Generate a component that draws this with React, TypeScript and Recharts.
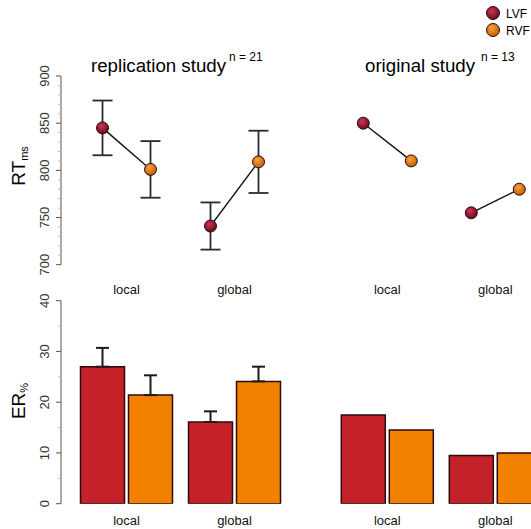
import { ScatterChart, Scatter, BarChart, Bar, XAxis, YAxis, ErrorBar } from 'recharts';

const FONT = '"Liberation Sans", Arial, Helvetica, sans-serif';

const conditions = ['local', 'global'];

// reaction times in ms, replication study (with standard errors) and original study
const repRtLVF = [845, 741];
const repRtRVF = [801, 809];
const repRtSeLVF = [29, 25];
const repRtSeRVF = [30, 33];
const origRtLVF = [850, 755];
const origRtRVF = [810, 780];

// error rates in %
const repErLVF = [27.0, 16.1];
const repErRVF = [21.4, 24.1];
const repErSeLVF = [3.7, 2.1];
const repErSeRVF = [3.9, 2.9];
const origErLVF = [17.5, 9.5];
const origErRVF = [14.5, 10.0];

const rtTicks = [700, 710, 720, 730, 740, 750, 760, 770, 780, 790, 800, 810, 820, 830, 840, 850, 860, 870, 880, 890, 900];
const erTicks = [0, 5, 10, 15, 20, 25, 30, 35, 40];

const COLORS = { LVF: '#c52129', RVF: '#f38100' };

// bar geometry shared by both rows so dots sit over the bars
const BAR_SIZE = 44;
const BAR_GAP = 4;
const BAND = 108;
const OFFSET = (BAR_SIZE + BAR_GAP) / 2 / BAND;

const makeTick = (majorStep: number, labelOffset: number) => (props: any) => {
  const { x, y, payload } = props;
  const major = payload.value % majorStep === 0;
  return (
    <g>
      <line x1={x - (major ? 5 : 3)} x2={x} y1={y} y2={y} stroke={major ? '#555' : '#bbb'} strokeWidth={1} />
      {major && (
        <text
          transform={`translate(${x - labelOffset},${y}) rotate(-90)`}
          textAnchor="middle"
          fontSize={13}
          fontFamily={FONT}
          fill="#333"
        >
          {payload.value}
        </text>
      )}
    </g>
  );
};

const Dot = (props: any) => {
  const { cx, cy, payload } = props;
  return <circle cx={cx} cy={cy} r={6} fill={`url(#dot-${payload.series})`} stroke="#2a0a10" strokeWidth={1} />;
};

function RtPanel({ lvf, rvf, seL, seR, primary }: any) {
  const pairs = conditions.map((c, i) => [
    { x: i - OFFSET, y: lvf[i], err: seL ? seL[i] : 0, series: 'LVF', cond: c },
    { x: i + OFFSET, y: rvf[i], err: seR ? seR[i] : 0, series: 'RVF', cond: c },
  ]);
  return (
    <ScatterChart
      width={primary ? 300 : 229.3}
      height={300}
      margin={primary ? { top: 76, right: 11.5, bottom: 5.3, left: 6 } : { top: 76, right: 0, bottom: 5.3, left: 13.3 }}
    >
      <XAxis
        type="number"
        dataKey="x"
        domain={[-0.5, 1.5]}
        ticks={[0, 1]}
        interval={0}
        allowDataOverflow
        tickFormatter={(v: number) => conditions[v]}
        axisLine={false}
        tickLine={false}
        tickSize={0}
        tickMargin={20}
        height={30}
        padding={{ left: primary ? 11.5 : 0, right: 0 }}
        tick={{ fill: '#111', fontSize: 13, fontFamily: FONT }}
      />
      <YAxis
        type="number"
        dataKey="y"
        domain={[700, 900]}
        ticks={rtTicks}
        interval={0}
        allowDataOverflow
        hide={!primary}
        width={primary ? 55 : 0}
        axisLine={{ stroke: '#555' }}
        tickLine={false}
        tickSize={0}
        tickMargin={0}
        tick={makeTick(50, 12.5)}
      />
      {pairs.map((pair, i) => (
        <Scatter
          key={i}
          data={pair}
          line={{ stroke: '#111', strokeWidth: 1.4 }}
          shape={Dot}
          isAnimationActive={false}
        >
          {seL && <ErrorBar dataKey="err" direction="y" width={10} stroke="#2a2a2a" strokeWidth={1.8} />}
        </Scatter>
      ))}
    </ScatterChart>
  );
}

function ErPanel({ lvf, rvf, seL, seR, primary }: any) {
  const rows = conditions.map((c, i) => ({
    cond: c,
    LVF: lvf[i],
    RVF: rvf[i],
    LVFse: seL ? [0, seL[i]] : [0, 0],
    RVFse: seR ? [0, seR[i]] : [0, 0],
  }));
  return (
    <BarChart
      width={primary ? 300 : 229.3}
      height={239}
      data={rows}
      barSize={BAR_SIZE}
      barGap={BAR_GAP}
      margin={primary ? { top: 10.7, right: 11.5, bottom: 5.3, left: 6 } : { top: 10.7, right: 0, bottom: 5.3, left: 13.3 }}
    >
      <XAxis
        dataKey="cond"
        axisLine={false}
        tickLine={false}
        tickSize={0}
        tickMargin={12}
        height={20}
        interval={0}
        padding={{ left: primary ? 11.5 : 0, right: 0 }}
        tick={{ fill: '#111', fontSize: 13, fontFamily: FONT }}
      />
      <YAxis
        type="number"
        domain={[0, 40]}
        ticks={erTicks}
        interval={0}
        allowDataOverflow
        hide={!primary}
        width={primary ? 55 : 0}
        axisLine={{ stroke: '#555' }}
        tickLine={false}
        tickSize={0}
        tickMargin={0}
        tick={makeTick(10, 12.5)}
      />
      <Bar dataKey="LVF" fill={COLORS.LVF} stroke="#2b0b0b" strokeWidth={1.5} isAnimationActive={false}>
        {seL && <ErrorBar dataKey="LVFse" direction="y" width={6.5} stroke="#1a1a1a" strokeWidth={2} />}
      </Bar>
      <Bar dataKey="RVF" fill={COLORS.RVF} stroke="#2b0b0b" strokeWidth={1.5} isAnimationActive={false}>
        {seR && <ErrorBar dataKey="RVFse" direction="y" width={6.5} stroke="#1a1a1a" strokeWidth={2} />}
      </Bar>
    </BarChart>
  );
}

export default function App() {
  return (
    <div
      style={{
        position: 'fixed',
        left: 0,
        top: 0,
        width: 531,
        height: 529,
        overflow: 'hidden',
        background: '#fff',
        fontFamily: FONT,
      }}
    >
      <svg width={0} height={0} style={{ position: 'absolute' }}>
        <defs>
          <radialGradient id="dot-LVF" cx="40%" cy="35%" r="65%">
            <stop offset="0%" stopColor="#cc3550" />
            <stop offset="100%" stopColor="#6a0a22" />
          </radialGradient>
          <radialGradient id="dot-RVF" cx="40%" cy="35%" r="65%">
            <stop offset="0%" stopColor="#f7a23a" />
            <stop offset="100%" stopColor="#c25c04" />
          </radialGradient>
        </defs>
      </svg>

      <div style={{ position: 'absolute', left: 0, top: 0 }}>
        <RtPanel lvf={repRtLVF} rvf={repRtRVF} seL={repRtSeLVF} seR={repRtSeRVF} primary />
      </div>
      <div style={{ position: 'absolute', left: 320, top: 0 }}>
        <RtPanel lvf={origRtLVF} rvf={origRtRVF} />
      </div>
      <div style={{ position: 'absolute', left: 0, top: 290 }}>
        <ErPanel lvf={repErLVF} rvf={repErRVF} seL={repErSeLVF} seR={repErSeRVF} primary />
      </div>
      <div style={{ position: 'absolute', left: 320, top: 290 }}>
        <ErPanel lvf={origErLVF} rvf={origErRVF} />
      </div>

      <svg width={531} height={529} style={{ position: 'absolute', left: 0, top: 0, pointerEvents: 'none' }} fontFamily={FONT}>
        <text x={91} y={72} fontSize={18.7} fill="#000">replication study</text>
        <text x={229} y={61} fontSize={12} fill="#000">n = 21</text>
        <text x={365} y={72} fontSize={18.7} fill="#000">original study</text>
        <text x={481} y={61} fontSize={12} fill="#000">n = 13</text>

        <text transform="translate(25,166) rotate(-90)" textAnchor="middle" fill="#000">
          <tspan fontSize={19}>RT</tspan>
          <tspan fontSize={11} dy={3}>ms</tspan>
        </text>
        <text transform="translate(25,401) rotate(-90)" textAnchor="middle" fill="#000">
          <tspan fontSize={19}>ER</tspan>
          <tspan fontSize={11} dy={3}>%</tspan>
        </text>

        <circle cx={493} cy={13} r={6.5} fill="url(#dot-LVF)" stroke="#2a0a10" strokeWidth={1} />
        <text x={506} y={17.5} fontSize={12} fill="#000">LVF</text>
        <circle cx={493} cy={30} r={6.5} fill="url(#dot-RVF)" stroke="#2a0a10" strokeWidth={1} />
        <text x={506} y={34.5} fontSize={12} fill="#000">RVF</text>
      </svg>
    </div>
  );
}
